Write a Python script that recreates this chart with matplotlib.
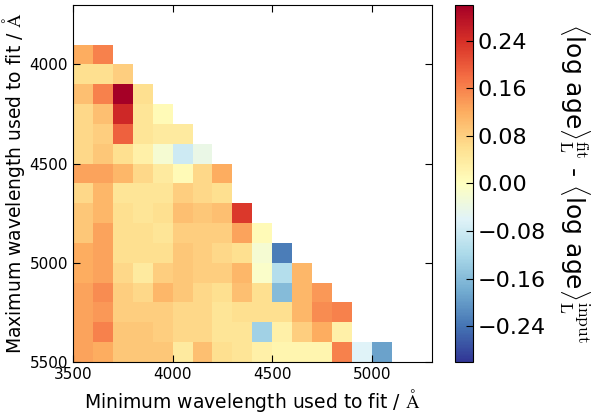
import numpy as np
import matplotlib
matplotlib.use('Agg')
import matplotlib.pyplot as plt
from matplotlib.ticker import FuncFormatter

nan = np.nan

# bin edges in Angstrom (minimum / maximum wavelength of the fit window)
min_wl = np.arange(3500, 5400, 100)
max_wl = np.arange(3900, 5600, 100)

# <log age>_L fit - input, one row per maximum wavelength bin
dage = [
    [0.12, 0.16],
    [0.06, 0.06, 0.08],
    [0.10, 0.16, 0.30, 0.06],
    [0.07, 0.10, 0.25, 0.05, 0.01],
    [0.07, 0.08, 0.19, 0.05, 0.04, 0.04],
    [0.07, 0.09, 0.06, 0.03, -0.02, -0.08, -0.04],
    [0.13, 0.13, 0.11, 0.07, 0.04, 0.01, 0.07, 0.12],
    [0.07, 0.11, 0.05, 0.05, 0.05, 0.08, 0.07, 0.06],
    [0.09, 0.11, 0.06, 0.05, 0.06, 0.10, 0.09, 0.10, 0.23],
    [0.09, 0.13, 0.06, 0.06, 0.05, 0.08, 0.08, 0.08, 0.13, 0.01],
    [0.12, 0.13, 0.06, 0.06, 0.06, 0.09, 0.08, 0.07, 0.06, -0.02, -0.23],
    [0.12, 0.13, 0.07, 0.04, 0.08, 0.09, 0.08, 0.08, 0.11, -0.01, -0.11, 0.11],
    [0.13, 0.15, 0.08, 0.07, 0.11, 0.09, 0.07, 0.06, 0.10, 0.06, -0.16, 0.11, 0.14],
    [0.13, 0.14, 0.08, 0.08, 0.08, 0.07, 0.07, 0.05, 0.06, 0.06, 0.06, 0.11, 0.15, 0.16],
    [0.13, 0.16, 0.09, 0.09, 0.08, 0.07, 0.07, 0.05, 0.05, -0.13, 0.03, 0.08, 0.12, 0.03],
    [0.13, 0.12, 0.09, 0.09, 0.09, 0.04, 0.10, 0.06, 0.05, 0.03, 0.02, 0.02, 0.02, 0.16, -0.06, -0.19],
]

grid = np.full((len(max_wl), len(min_wl)), nan)
for i, row in enumerate(dage):
    grid[i, :len(row)] = row
grid = np.ma.masked_invalid(grid)

plt.rcParams['mathtext.fontset'] = 'cm'
plt.rcParams['xtick.direction'] = 'in'
plt.rcParams['ytick.direction'] = 'in'
plt.rcParams['xtick.top'] = True
plt.rcParams['ytick.right'] = True
plt.rcParams['xtick.major.size'] = 5
plt.rcParams['ytick.major.size'] = 5

fig = plt.figure(figsize=(5.98, 4.16), dpi=100)
ax = fig.add_axes([0.122, 0.130, 0.600, 0.858])
cax = fig.add_axes([0.761, 0.130, 0.030, 0.858])

xe = np.append(min_wl, min_wl[-1] + 100)
ye = np.append(max_wl, max_wl[-1] + 100)
im = ax.pcolormesh(xe, ye, grid, cmap='RdYlBu_r', vmin=-0.3, vmax=0.3)

ax.set_xlim(3500, 5300)
ax.set_ylim(5500, 3700)
ax.set_xticks([3500, 4000, 4500, 5000])
ax.set_yticks([4000, 4500, 5000, 5500])
ax.tick_params(labelsize=11)
ax.set_xlabel(r'Minimum wavelength used to fit / $\rm\AA$', fontsize=13.5)
ax.set_ylabel(r'Maximum wavelength used to fit / $\rm\AA$', fontsize=13.5, labelpad=2)

minus_fmt = FuncFormatter(lambda v, pos: ('%.2f' % v).replace('-', '\u2212'))
cb = fig.colorbar(im, cax=cax, ticks=[-0.24, -0.16, -0.08, 0.0, 0.08, 0.16, 0.24],
                  format=minus_fmt)
cb.ax.tick_params(labelsize=16, direction='in', length=5)
cb.set_label(r'$\langle$log age$\rangle_{\rm L}^{\rm fit}$ - '
             r'$\langle$log age$\rangle_{\rm L}^{\rm input}$',
             fontsize=18, rotation=270, labelpad=33)

fig.savefig('out.png', dpi=100)
